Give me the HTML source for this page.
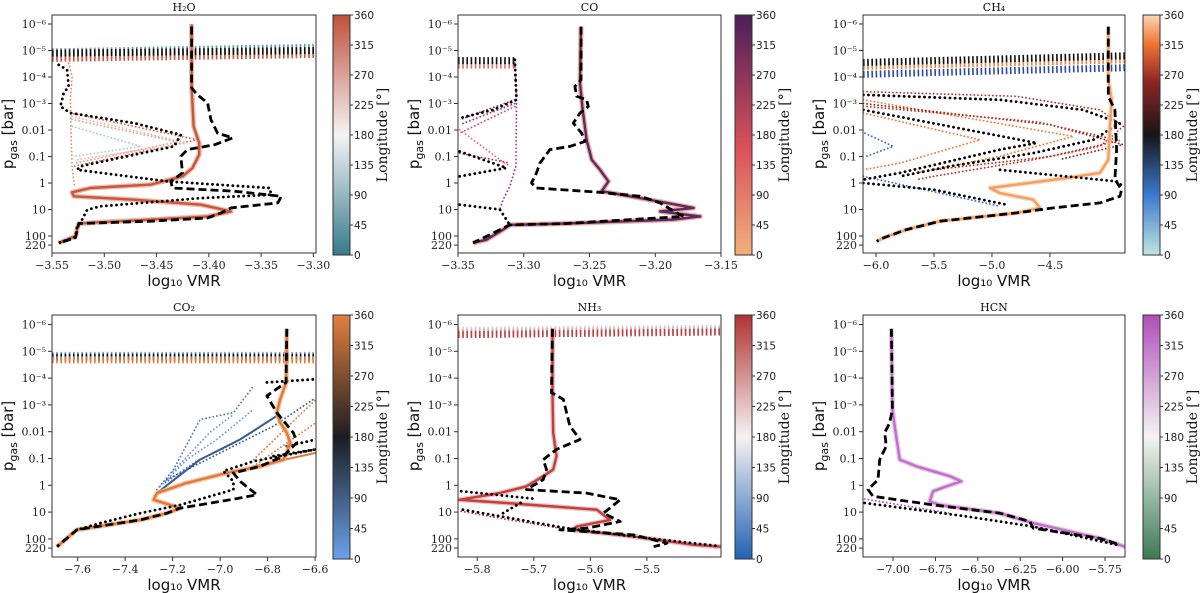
<!DOCTYPE html>
<html><head><meta charset="utf-8">
<style>
html,body{margin:0;padding:0;background:#fff;}
svg{display:block;}
.tick{font-family:"DejaVu Serif","Liberation Serif",serif;font-size:11px;fill:#222;}
.cbt{font-family:"DejaVu Sans","Liberation Sans",sans-serif;font-size:10.5px;fill:#222;}
.lab{font-family:"DejaVu Sans","Liberation Sans",sans-serif;font-size:15px;fill:#111;}
.ttl{font-family:"DejaVu Serif","Liberation Serif",serif;font-size:11px;fill:#111;}
.cbl{font-family:"DejaVu Serif","Liberation Serif",serif;font-size:14px;fill:#111;}
</style></head>
<body>
<svg id="fig" width="1200" height="593" viewBox="0 0 1200 593" xmlns="http://www.w3.org/2000/svg">
<defs>
<linearGradient id="cm-h2o" x1="0" y1="1" x2="0" y2="0"><stop offset="0" stop-color="#367a8c"/><stop offset="0.5" stop-color="#f4f4f4"/><stop offset="1" stop-color="#c0503a"/></linearGradient>
<linearGradient id="cm-co" x1="0" y1="1" x2="0" y2="0"><stop offset="0" stop-color="#f1b07c"/><stop offset="0.45" stop-color="#d9505a"/><stop offset="1" stop-color="#4a1f5a"/></linearGradient>
<linearGradient id="cm-ch4" x1="0" y1="1" x2="0" y2="0"><stop offset="0" stop-color="#bfe6df"/><stop offset="0.25" stop-color="#3a7ad0"/><stop offset="0.5" stop-color="#161616"/><stop offset="0.72" stop-color="#8e2424"/><stop offset="0.88" stop-color="#f07434"/><stop offset="1" stop-color="#fcd6b4"/></linearGradient>
<linearGradient id="cm-co2" x1="0" y1="1" x2="0" y2="0"><stop offset="0" stop-color="#6aa2ea"/><stop offset="0.5" stop-color="#1b1c22"/><stop offset="1" stop-color="#e2803e"/></linearGradient>
<linearGradient id="cm-nh3" x1="0" y1="1" x2="0" y2="0"><stop offset="0" stop-color="#2262b2"/><stop offset="0.5" stop-color="#f6f3f3"/><stop offset="1" stop-color="#b03232"/></linearGradient>
<linearGradient id="cm-hcn" x1="0" y1="1" x2="0" y2="0"><stop offset="0" stop-color="#3b7a52"/><stop offset="0.5" stop-color="#f4f4f4"/><stop offset="1" stop-color="#b04eb8"/></linearGradient>
</defs>
</svg>
<script>
// ---------- data (log10 p [bar], log10 VMR) ----------
const yTickVals=[-6,-5,-4,-3,-2,-1,0,1,2,2.3424];
const yTickLabels=["10⁻⁶","10⁻⁵","10⁻⁴","10⁻³","0.01","0.1","1","10","100","220"];
const cbTickVals=[0,45,90,135,180,225,270,315,360];

// H2O
const h2oXTicks=[-3.55,-3.50,-3.45,-3.40,-3.35,-3.30];
const h2oSolidP=[-5.99,-3.64,-2.14,-1.51,-1.07,-0.57,-0.25,0.06,0.19,0.35,0.5,0.63,0.82,1.07,1.26,1.38,1.48,1.53,1.76,2.01,2.26];
const h2oSolidX=[-3.4165,-3.4165,-3.4146,-3.4092,-3.4092,-3.4156,-3.4252,-3.4556,-3.5132,-3.5308,-3.5292,-3.4716,-3.4076,-3.3787,-3.4012,-3.4556,-3.5036,-3.5244,-3.526,-3.5276,-3.5436];
const h2oDashP=[-5.9,-3.58,-3.33,-3.02,-2.39,-1.88,-1.7,-1.44,-1.26,-1.01,-0.38,-0.06,0.19,0.31,0.5,0.75,0.94,1.13,1.32,1.44,1.53,2.07,2.26];
const h2oDashX=[-3.4165,-3.4165,-3.4108,-3.4012,-3.398,-3.3916,-3.3771,-3.3947,-3.4204,-3.4268,-3.4252,-3.4364,-3.4348,-3.3755,-3.3307,-3.3339,-3.3787,-3.3883,-3.4012,-3.4556,-3.5244,-3.5276,-3.5436];
const h2oDotP=[-4.46,-4.27,-3.64,-3.39,-2.89,-2.64,-2.26,-1.82,-1.38,-1.01,-0.63,-0.5,-0.06,0.19,0.44,0.57,0.88,1.01,1.38,1.63,2.04,2.26];
const h2oDotX=[-3.5436,-3.5356,-3.534,-3.5388,-3.542,-3.5324,-3.4716,-3.4268,-3.4332,-3.478,-3.5228,-3.526,-3.4396,-3.3419,-3.3403,-3.4076,-3.5036,-3.5164,-3.5212,-3.526,-3.5276,-3.5436];
const h2oCd1P=[-2.64,-1.63,-0.63], h2oCd1X=[-3.5324,-3.4108,-3.5292];
const h2oCd2P=[-2.51,-1.51,-0.88], h2oCd2X=[-3.5308,-3.4204,-3.526];
const h2oCd3P=[-2.14,-1.38,-1.01], h2oCd3X=[-3.5308,-3.4652,-3.5276];
const h2oCd4P=[-4.52,-4.02,-3.14,-1.88,-0.63,0.13], h2oCd4X=[-3.534,-3.5308,-3.5324,-3.5318,-3.5308,-3.5286];
const h2oCd5P=[-2.4,-1.55,-0.75], h2oCd5X=[-3.531,-3.43,-3.528];
const h2oBandP0=[-4.95,-4.78,-4.7,-4.9], h2oBandP1=[-5.12,-4.95,-4.85,-5.0];
const h2oBandX0=[-3.55,-3.55,-3.55,-3.55], h2oBandX1=[-3.2975,-3.2975,-3.2975,-3.2975];

// CO
const coXTicks=[-3.35,-3.30,-3.25,-3.20,-3.15];
const coSolidP=[-5.9,-3.77,-2.76,-1.63,-0.88,-0.5,-0.06,0.31,0.75,0.94,1.07,1.26,1.38,1.53,1.58,1.76,2.14,2.26];
const coSolidX=[-3.2565,-3.2572,-3.2552,-3.2522,-3.2483,-3.242,-3.2356,-3.2407,-3.1912,-3.1708,-3.1962,-3.1658,-3.1861,-3.2674,-3.3106,-3.3157,-3.3284,-3.3386];
const coDashP=[-5.9,-3.89,-3.64,-3.27,-3.14,-2.89,-2.64,-2.26,-1.88,-1.57,-1.38,-1.26,-0.75,-0.38,0,0.19,0.35,0.5,0.75,1.13,1.26,1.53,1.58,2.26];
const coDashX=[-3.2565,-3.2565,-3.2611,-3.2598,-3.2522,-3.2509,-3.2572,-3.2623,-3.256,-3.2534,-3.2649,-3.2801,-3.2877,-3.2903,-3.2941,-3.2903,-3.242,-3.2115,-3.1963,-3.1836,-3.1785,-3.2674,-3.3106,-3.3386];
const coDotAP=[-4.65,-3.14,-2.76,-2.45], coDotAX=[-3.3068,-3.3055,-3.3233,-3.3487];
const coDotBP=[-1.19,-0.57,-0.25], coDotBX=[-3.3487,-3.3132,-3.3487];
const coDotCP=[0.82,1.0,1.58], coDotCX=[-3.3487,-3.3182,-3.3106];
const coCd1P=[-4.52,-3.14,-0.63,0.13,0.63,1.0], coCd1X=[-3.3068,-3.3055,-3.306,-3.3106,-3.3157,-3.3182];
const coCd2P=[-3.14,-2.39], coCd2X=[-3.3068,-3.3487];
const coCd3P=[-2.89,-1.88], coCd3X=[-3.3068,-3.3487];
const coCd4P=[-2.01,-0.88,-0.63], coCd4X=[-3.3487,-3.3182,-3.3106];
const coCd5P=[-1.13,-0.75], coCd5X=[-3.3487,-3.3106];
const coCd6P=[-3.0,-2.2], coCd6X=[-3.3068,-3.3487];
const coBandP0=[-4.45,-4.62], coBandP1=[-4.45,-4.62];
const coBandX0=[-3.35,-3.35], coBandX1=[-3.307,-3.307];

// CH4
const ch4XTicks=[-6.0,-5.5,-5.0,-4.5];
const ch4SolidP=[-5.9,-3.9,-3.14,-2.14,-0.88,-0.38,-0.19,0.19,0.38,0.63,0.94,1.13,1.44,1.76,2.07,2.2];
const ch4SolidX=[-3.997,-3.997,-3.968,-3.983,-3.997,-4.069,-4.356,-5.017,-4.931,-4.644,-4.586,-4.787,-5.448,-5.736,-5.937,-5.994];
const ch4DashP=[-5.9,-3.27,-2.76,-1.26,-0.13,0.25,0.5,0.75,0.94,1.13,1.44,1.76,2.07,2.2];
const ch4DashX=[-3.997,-3.997,-3.94,-3.925,-3.94,-3.882,-3.897,-4.069,-4.471,-4.787,-5.448,-5.736,-5.937,-5.994];
const ch4Dot1P=[-3.33,-3.14,-2.76,-2.26,-1.63,-1.13,-0.63,-0.25], ch4Dot1X=[-6.109,-4.931,-4.213,-3.897,-4.126,-4.644,-5.362,-5.793];
const ch4Dot2P=[-2.76,-2.01,-1.51,-1.26,-0.38,-0.13], ch4Dot2X=[-6.109,-5.218,-4.615,-4.931,-5.793,-6.109];
const ch4Dot3P=[-0.5,-0.06,0.13], ch4Dot3X=[-4.931,-3.925,-3.868];
const ch4Dot4P=[0.0,0.25,0.82], ch4Dot4X=[-6.109,-5.506,-4.874];
const ch4Cd1P=[-3.45,-3.27,-2.76,-2.14,-1.38,-0.88,-0.25,-0.13], ch4Cd1X=[-6.109,-4.787,-4.069,-3.868,-4.069,-4.644,-5.506,-5.649];
const ch4Cd2P=[-2.64,-1.63,-0.75,-0.5], ch4Cd2X=[-6.109,-5.103,-5.793,-6.109];
const ch4Cd3P=[-3.14,-1.76,-1.01,-0.38], ch4Cd3X=[-6.109,-4.299,-4.931,-5.649];
const ch4Cd4P=[-1.88,-1.38,-1.01], ch4Cd4X=[-6.095,-5.851,-6.08];
const ch4Cd5P=[-0.25,0.38,0.88], ch4Cd5X=[-6.109,-5.448,-4.931];
const ch4Cd6P=[-3.0,-2.2,-1.45,-0.9], ch4Cd6X=[-6.109,-4.5,-3.87,-4.4];
const ch4Cd7P=[-2.9,-2.3,-1.6,-1.0,-0.5], ch4Cd7X=[-6.109,-4.6,-3.9,-4.5,-5.5];
const ch4BandP0=[-4.1,-4.4,-4.55], ch4BandP1=[-4.35,-4.65,-4.8];
const ch4BandX0=[-6.112,-6.112,-6.112], ch4BandX1=[-3.853,-3.853,-3.853];

// CO2
const co2XTicks=[-7.6,-7.4,-7.2,-7.0,-6.8,-6.6];
const co2SolidP=[-5.84,-3.84,-3.21,-2.71,-2.34,-1.96,-1.59,-1.21,-0.96,-0.71,-0.46,-0.09,0.29,0.54,0.85,1.04,1.29,1.56,1.66,2.29];
const co2SolidX=[-6.719,-6.722,-6.747,-6.761,-6.747,-6.719,-6.705,-6.719,-6.733,-6.831,-6.972,-7.14,-7.266,-7.28,-7.168,-7.224,-7.336,-7.533,-7.603,-7.687];
const co2Solid2P=[-0.71,-1.21], co2Solid2X=[-6.859,-6.596];
const co2BlueP=[0.29,-0.96,-1.71,-2.59], co2BlueX=[-7.266,-7.084,-6.916,-6.761];
const co2DashP=[-5.84,-3.84,-3.34,-2.71,-1.96,-1.59,-1.09,-0.71,-0.46,-0.15,0.35,0.54,0.85,1.04,1.29,1.56,1.66,2.29];
const co2DashX=[-6.719,-6.722,-6.803,-6.761,-6.691,-6.677,-6.733,-6.831,-6.944,-6.916,-6.845,-6.958,-7.168,-7.224,-7.336,-7.533,-7.603,-7.687];
const co2DotP=[-1.34,-0.9,-0.53,-0.15,0.16,0.73,1.04,1.41,1.66], co2DotX=[-6.596,-6.859,-6.986,-6.944,-6.944,-7.168,-7.336,-7.505,-7.603];
const co2Dot2P=[-3.84,-3.96], co2Dot2X=[-6.803,-6.596];
const co2Dot3P=[-1.46,-1.71], co2Dot3X=[-6.719,-6.596];
const co2Dot4P=[-1.09,-1.34], co2Dot4X=[-6.775,-6.596];
const co2Cd1P=[0.16,-0.59,-2.46,-2.71,-3.71], co2Cd1X=[-7.266,-7.196,-7.084,-6.944,-6.859];
const co2Cd2P=[0.04,-0.96,-1.71,-2.84], co2Cd2X=[-7.252,-7.14,-7.014,-6.859];
const co2Cd3P=[-0.21,-1.46,-2.21,-3.21], co2Cd3X=[-7.224,-6.944,-6.775,-6.607];
const co2Cd4P=[-0.71,-2.34], co2Cd4X=[-6.859,-6.596];
const co2Cd5P=[-0.96,-3.21], co2Cd5X=[-6.859,-6.596];
const co2Cd6P=[-0.1,-0.9,-1.4,-2.0], co2Cd6X=[-7.23,-7.1,-6.98,-6.86];
const co2Cd7P=[-0.5,-2.0,-2.6], co2Cd7X=[-7.2,-7.04,-6.95];
const co2BandP0=[-4.85,-4.78,-4.68], co2BandP1=[-4.85,-4.78,-4.68];
const co2BandX0=[-7.708,-7.708,-7.708], co2BandX1=[-6.596,-6.596,-6.596];

// NH3
const nh3XTicks=[-5.8,-5.7,-5.6,-5.5];
const nh3SolidP=[-5.84,-3.34,-1.96,-1.09,-0.59,-0.34,0.04,0.29,0.54,0.66,0.91,1.29,1.54,1.66,1.91,2.22,2.29];
const nh3SolidX=[-5.6669,-5.6669,-5.6657,-5.6598,-5.6657,-5.6834,-5.713,-5.7604,-5.8314,-5.7485,-5.5888,-5.5651,-5.6243,-5.6302,-5.5237,-5.4172,-5.3698];
const nh3DashP=[-5.84,-3.46,-3.21,-2.71,-2.21,-1.71,-1.34,-0.96,-0.59,-0.21,0.16,0.29,0.54,1.04,1.35,1.6,1.66,1.85,2.16,2.29];
const nh3DashX=[-5.6669,-5.6686,-5.6479,-5.642,-5.6361,-5.6183,-5.6598,-5.6834,-5.6775,-5.6834,-5.713,-5.6065,-5.5473,-5.5769,-5.5473,-5.6065,-5.6538,-5.5237,-5.4645,-5.4882];
const nh3Dot1P=[0.22,0.51], nh3Dot1X=[-5.8284,-5.6953];
const nh3Dot2P=[1.04,0.6], nh3Dot2X=[-5.7544,-5.7189];
const nh3Dot3P=[0.91,1.22,1.6,1.91,2.26], nh3Dot3X=[-5.8254,-5.7426,-5.642,-5.5237,-5.3757];
const nh3Cd1P=[0.97,1.29,1.6], nh3Cd1X=[-5.8284,-5.7426,-5.6538];
const nh3BandP0=[-5.78,-5.7,-5.62], nh3BandP1=[-5.86,-5.78,-5.72];
const nh3BandX0=[-5.834,-5.834,-5.834], nh3BandX1=[-5.369,-5.369,-5.369];

// HCN
const hcnXTicks=[-7.00,-6.75,-6.50,-6.25,-6.00,-5.75];
const hcnSolidP=[-5.84,-2.84,-2.21,-0.96,-0.71,-0.34,-0.15,0.04,0.22,0.6,0.73,1.04,1.41,1.98,2.29];
const hcnSolidX=[-7.0098,-7.0039,-6.9902,-6.9606,-6.8622,-6.6654,-6.5965,-6.685,-6.7638,-6.7835,-6.7244,-6.3701,-6.1732,-5.7795,-5.6319];
const hcnDashP=[-5.84,-2.84,-2.34,-1.96,-1.46,-0.96,-0.21,0.16,0.41,0.73,1.04,1.35,1.6,1.98,2.22];
const hcnDashX=[-7.0098,-7.0039,-7.0197,-7.0492,-7.0394,-7.0787,-7.0886,-7.1476,-7.1181,-6.7638,-6.3701,-6.193,-6.173,-5.7795,-5.6614];
const hcnDotP=[0.66,1.16,1.54,2.22], hcnDotX=[-7.167,-6.567,-6.173,-5.681];
const hcnCd1P=[0.51,1.04], hcnCd1X=[-7.167,-6.665];

// ---------- rendering ----------
const svg=document.getElementById('fig');
const NS='http://www.w3.org/2000/svg';
function mk(tag,attrs,parent){const e=document.createElementNS(NS,tag);for(const k in attrs)e.setAttribute(k,attrs[k]);(parent||svg).appendChild(e);return e;}

const panels=[
 {key:'h2o',title:'H₂O',col:0,row:0,xmin:-3.55,xmax:-3.2975,ticks:h2oXTicks,dec:2,grad:'cm-h2o',
  solid:'#c8583c',solidHalo:'#e8a090',
  bands:[h2oBandP0,h2oBandP1,h2oBandX0,h2oBandX1,['#5a9aaa','#e0826a','#c8583c','#111']],
  series:[['cd',h2oCd4P,h2oCd4X,'#e08a70'],['cd',h2oCd1P,h2oCd1X,'#d8694e'],['cd',h2oCd2P,h2oCd2X,'#efb8a8'],['cd',h2oCd5P,h2oCd5X,'#e8a090'],['cd',h2oCd3P,h2oCd3X,'#a8cdd6'],
          ['solid',h2oSolidP,h2oSolidX],['dot',h2oDotP,h2oDotX],['dash',h2oDashP,h2oDashX]]},
 {key:'co',title:'CO',col:1,row:0,xmin:-3.35,xmax:-3.15,ticks:coXTicks,dec:2,grad:'cm-co',
  solid:'#5a2a68',solidHalo:'#e88a70',
  bands:[coBandP0,coBandP1,coBandX0,coBandX1,['#e0705a','#111']],
  series:[['cd',coCd1P,coCd1X,'#a03878'],['cd',coCd2P,coCd2X,'#7a2a6a'],['cd',coCd3P,coCd3X,'#d8506a'],['cd',coCd6P,coCd6X,'#a03878'],['cd',coCd4P,coCd4X,'#e86a60'],['cd',coCd5P,coCd5X,'#a03878'],
          ['solid',coSolidP,coSolidX],['dot',coDotAP,coDotAX],['dot',coDotBP,coDotBX],['dot',coDotCP,coDotCX],['dash',coDashP,coDashX]]},
 {key:'ch4',title:'CH₄',col:2,row:0,xmin:-6.112,xmax:-3.853,ticks:ch4XTicks,dec:1,grad:'cm-ch4',
  solid:'#f4a060',solidHalo:'#fcd0b0',
  bands:[ch4BandP0,ch4BandP1,ch4BandX0,ch4BandX1,['#2a4aa8','#f08040','#111']],
  series:[['cd',ch4Cd1P,ch4Cd1X,'#c03028'],['cd',ch4Cd2P,ch4Cd2X,'#f07a30'],['cd',ch4Cd3P,ch4Cd3X,'#f07a30'],['cd',ch4Cd6P,ch4Cd6X,'#8e2424'],['cd',ch4Cd7P,ch4Cd7X,'#c03028'],['cd',ch4Cd4P,ch4Cd4X,'#3a6ad0'],['cd',ch4Cd5P,ch4Cd5X,'#3a6ad0'],
          ['dot',ch4Dot1P,ch4Dot1X],['dot',ch4Dot2P,ch4Dot2X],['dot',ch4Dot4P,ch4Dot4X],
          ['solid',ch4SolidP,ch4SolidX],['dot',ch4Dot3P,ch4Dot3X],['dash',ch4DashP,ch4DashX]]},
 {key:'co2',title:'CO₂',col:0,row:1,xmin:-7.708,xmax:-6.596,ticks:co2XTicks,dec:1,grad:'cm-co2',
  solid:'#e07a3a',solidHalo:'#f0b080',
  bands:[co2BandP0,co2BandP1,co2BandX0,co2BandX1,['#6aa2ea','#111','#e07a3a']],
  series:[['cd',co2Cd1P,co2Cd1X,'#4a78c0'],['cd',co2Cd2P,co2Cd2X,'#6a9ae0'],['cd',co2Cd3P,co2Cd3X,'#3a5a90'],['cd',co2Cd6P,co2Cd6X,'#4a78c0'],['cd',co2Cd7P,co2Cd7X,'#6a9ae0'],['cd',co2Cd4P,co2Cd4X,'#e07a3a'],['cd',co2Cd5P,co2Cd5X,'#e07a3a'],
          ['dot',co2Dot2P,co2Dot2X],['dot',co2Dot3P,co2Dot3X],['dot',co2Dot4P,co2Dot4X],
          ['line',co2BlueP,co2BlueX,'#3a5a90'],['line',co2Solid2P,co2Solid2X,'#e07a3a'],
          ['solid',co2SolidP,co2SolidX],['dot',co2DotP,co2DotX],['dash',co2DashP,co2DashX]]},
 {key:'nh3',title:'NH₃',col:1,row:1,xmin:-5.834,xmax:-5.369,ticks:nh3XTicks,dec:1,grad:'cm-nh3',
  solid:'#c04040',solidHalo:'#e8a8a8',
  bands:[nh3BandP0,nh3BandP1,nh3BandX0,nh3BandX1,['#c8d0e8','#e8a0a0','#c04040']],
  series:[['cd',nh3Cd1P,nh3Cd1X,'#c04040'],['solid',nh3SolidP,nh3SolidX],['dot',nh3Dot1P,nh3Dot1X],['dot',nh3Dot2P,nh3Dot2X],['dot',nh3Dot3P,nh3Dot3X],['dash',nh3DashP,nh3DashX]]},
 {key:'hcn',title:'HCN',col:2,row:1,xmin:-7.177,xmax:-5.632,ticks:hcnXTicks,dec:2,grad:'cm-hcn',
  solid:'#c070c8',solidHalo:'#dcb0e0',
  bands:null,
  series:[['cd',hcnCd1P,hcnCd1X,'#b050b8'],['solid',hcnSolidP,hcnSolidX],['dot',hcnDotP,hcnDotX],['dash',hcnDashP,hcnDashX]]}
];
const colX=[[52,316,333],[458,721,735],[863,1125,1143]];
const rowY=[[15,253,24,26.5],[315,557,324.5,26.8]];

function fmt(v,d){return (v<0?'−':'')+Math.abs(v).toFixed(d);}

panels.forEach(pn=>{
  const [x0,x1,cbx]=colX[pn.col];
  const [y0,y1,yTop,dec]=rowY[pn.row];
  const xs=v=>x0+(v-pn.xmin)/(pn.xmax-pn.xmin)*(x1-x0);
  const ys=lp=>yTop+(lp+6)*dec;
  const g=mk('g',{});
  
  
  const cid='clip-'+pn.key;
  const cp=mk('clipPath',{id:cid},g);mk('rect',{x:x0,y:y0,width:x1-x0,height:y1-y0},cp);
  const plot=mk('g',{'clip-path':'url(#'+cid+')'},g);
  
  
  const pts=(P,X)=>P.map((p,i)=>xs(X[i]).toFixed(1)+','+ys(p).toFixed(1)).join(' ');
  if(pn.bands){
    const [bp0,bp1,bx0,bx1,cols]=pn.bands;
    bp0.forEach((p,i)=>{
      const l=mk('line',{x1:xs(bx0[i]),y1:ys(p),x2:xs(bx1[i]),y2:ys(bp1[i]),stroke:cols[i],'stroke-width':7,'stroke-dasharray':'1.6 2.6',fill:'none'},plot);
      
      
    });
  }
  pn.series.forEach(s=>{
    const [type,P,X,col]=s;
    const pp=pts(P,X);
    let e;
    if(type==='solid'){
      const h=mk('polyline',{points:pp,fill:'none',stroke:pn.solidHalo,'stroke-width':5,'stroke-linejoin':'round',opacity:0.7},plot);
      
      
      e=mk('polyline',{points:pp,fill:'none',stroke:pn.solid,'stroke-width':2.4,'stroke-linejoin':'round'},plot);
      
    }else if(type==='line'){
      e=mk('polyline',{points:pp,fill:'none',stroke:col,'stroke-width':2,'stroke-linejoin':'round'},plot);
      
    }else if(type==='dash'){
      e=mk('polyline',{points:pp,fill:'none',stroke:'#000','stroke-width':2.8,'stroke-dasharray':'8 4','stroke-linejoin':'round'},plot);
      
    }else if(type==='dot'){
      e=mk('polyline',{points:pp,fill:'none',stroke:'#000','stroke-width':2.8,'stroke-dasharray':'0.1 5','stroke-linecap':'round'},plot);
      
    }else{
      e=mk('polyline',{points:pp,fill:'none',stroke:col,'stroke-width':1.8,'stroke-dasharray':'0.1 3.6','stroke-linecap':'round'},plot);
      
    }
    
  });
  const fr=mk('rect',{x:x0,y:y0,width:x1-x0,height:y1-y0,fill:'none',stroke:'#333','stroke-width':1},g);
  
  
  pn.ticks.forEach(v=>{
    const x=xs(v);
    const t=mk('line',{x1:x,y1:y1,x2:x,y2:y1+4,stroke:'#333'},g);
    
    
    const tl=mk('text',{x:x,y:y1+16,'text-anchor':'middle',class:'tick'},g);
    tl.textContent=fmt(v,pn.dec);
    
    
  });
  yTickVals.forEach((v,i)=>{
    const y=ys(v);
    const t=mk('line',{x1:x0-4,y1:y,x2:x0,y2:y,stroke:'#333'},g);
    
    
    const tl=mk('text',{x:x0-6,y:y+4,'text-anchor':'end',class:'tick'},g);
    tl.textContent=yTickLabels[i];
    
    
  });
  const tt=mk('text',{x:(x0+x1)/2,y:y0-4,'text-anchor':'middle',class:'ttl'},g);
  tt.textContent=pn.title;
  
  
  const xl=mk('text',{x:(x0+x1)/2,y:y1+33,'text-anchor':'middle',class:'lab'},g);
  xl.textContent='log₁₀ VMR';
  
  
  const yl=mk('text',{x:0,y:0,'text-anchor':'middle',class:'lab',transform:'translate('+(x0-39)+','+((y0+y1)/2)+') rotate(-90)'},g);
  
  
  const t1=mk('tspan',{},yl);t1.textContent='p';
  const t2=mk('tspan',{dy:4,'font-size':11},yl);t2.textContent='gas';
  const t3=mk('tspan',{dy:-4},yl);t3.textContent=' [bar]';
  const cbTop=y0,cbBot=y1+2;
  const cb=mk('rect',{x:cbx,y:cbTop,width:17,height:cbBot-cbTop,fill:'url(#'+pn.grad+')',stroke:'#333','stroke-width':1},g);
  
  
  cbTickVals.forEach(v=>{
    const y=cbBot-(v/360)*(cbBot-cbTop);
    const t=mk('line',{x1:cbx+17,y1:y,x2:cbx+20,y2:y,stroke:'#333'},g);
    
    
    const tl=mk('text',{x:cbx+21,y:y+4,class:'cbt'},g);
    tl.textContent=String(v);
    
    
  });
  const cl=mk('text',{x:0,y:0,'text-anchor':'middle',class:'cbl',transform:'translate('+(cbx+54)+','+((cbTop+cbBot)/2)+') rotate(-90)'},g);
  cl.textContent='Longitude [°]';
  
  
});
</script>
</body></html>
